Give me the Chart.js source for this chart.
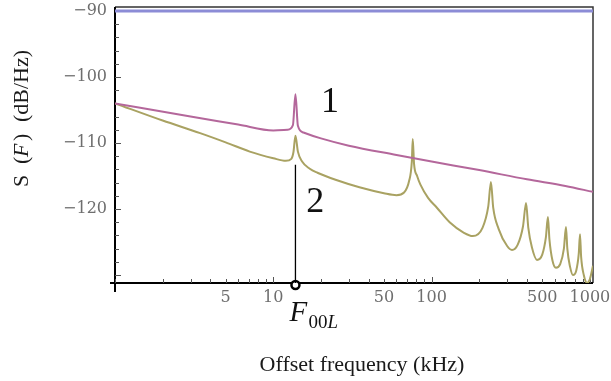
<!DOCTYPE html>
<html>
<head>
<meta charset="utf-8">
<script src="https://cdn.jsdelivr.net/npm/chart.js@4.4.1/dist/chart.umd.min.js"></script>
<style>
  html, body { margin: 0; padding: 0; background: #fff; }
  #wrap { width: 611px; height: 381px; }
</style>
</head>
<body>
<div id="wrap"><canvas id="chart" width="611" height="381"></canvas></div>
<script>
// ---- Data (frequency in kHz, level in dB/Hz) ----

// Curve 1 (magenta)
const curve1Freq  = [1, 3, 6, 10, 12.3, 13.3, 13.8, 14.3, 15.5, 20, 30, 60, 100, 200, 400, 700, 1046];
const curve1Level = [-104.0, -106.0, -107.2, -108.1, -108.0, -107.3, -102.6, -107.4, -108.4, -109.3, -110.4, -111.8, -112.8, -114.1, -115.5, -116.5, -117.4];

// Curve 2 (olive)
const curve2Freq = [
  1, 2, 3.45, 5, 7.1, 10, 12, 13, 13.4, 13.8, 14.3, 15.2, 17, 19, 25, 35, 50, 60,
  67, 72, 75, 76, 77.5, 81, 85, 95, 108, 130, 160, 182, 210, 228, 237, 245, 265, 300, 322,
  350, 378, 395, 408, 430, 463, 500, 527, 543, 555, 580, 610, 650, 685, 706, 720,
  750, 782, 820, 850, 866, 880, 915, 960, 1000, 1046
];
const curve2Level = [
  -104.0, -106.6, -108.5, -109.9, -111.3, -112.3, -112.7, -112.4, -111.4, -108.9, -111.3, -112.8, -113.9, -114.5, -115.6, -116.7, -117.6, -117.9,
  -117.5, -115.8, -112.8, -109.4, -113.2, -115.0, -116.3, -118.3, -119.8, -122.0, -123.6, -124.1, -122.8, -119.6, -115.9, -119.8, -123.0, -125.6, -126.2,
  -125.4, -122.6, -119.1, -122.8, -125.8, -127.7, -126.9, -124.3, -121.2, -124.6, -127.8, -128.9, -128.3, -126.0, -122.7, -126.0,
  -128.8, -130.0, -129.3, -126.8, -123.8, -127.2, -130.0, -131.2, -130.6, -128.6
];

// Reference level line (blue) at -90 dB/Hz
const refFreq  = [1, 1046];
const refLevel = [-90, -90];

// Marker F00L and its vertical guide
const markerFreq = 13.8;
const guideLevel = [-113.3, -131.2];
const markerLevel = -131.5;

// Axes
const xMin = 1, xMax = 1046;
const yMin = -131.2, yMax = -89.4;
const xTickValues = [5, 10, 50, 100, 500, 1000];
const yTickValues = [-120, -110, -100, -90];
const xMinorTicks = [1, 2, 3, 4, 5, 6, 7, 8, 9, 10, 20, 30, 40, 50, 60, 70, 80, 90, 100,
                     200, 300, 400, 500, 600, 700, 800, 900, 1000];
const yMinorTicks = [-130, -128, -126, -124, -122, -120, -118, -116, -114, -112, -110,
                     -108, -106, -104, -102, -100, -98, -96, -94, -92, -90];

const SERIF = '"Liberation Serif", "Times New Roman", serif';

function pts(xs, ys) {
  return xs.map((x, i) => ({ x, y: ys[i] }));
}

// frame + inward ticks, drawn before the curves
const framePlugin = {
  id: 'frame',
  beforeDatasetsDraw(chart) {
    const { ctx, chartArea: a, scales: { x, y } } = chart;
    ctx.save();
    // top/right border
    ctx.strokeStyle = '#333';
    ctx.lineWidth = 1.5;
    ctx.beginPath();
    ctx.moveTo(a.left, a.top);
    ctx.lineTo(a.right, a.top);
    ctx.lineTo(a.right, a.bottom);
    ctx.stroke();
    // axes
    ctx.strokeStyle = '#000';
    ctx.lineWidth = 2;
    ctx.beginPath();
    ctx.moveTo(a.left, a.top);
    ctx.lineTo(a.left, a.bottom + 9);
    ctx.moveTo(a.left - 5, a.bottom);
    ctx.lineTo(a.right, a.bottom);
    ctx.stroke();
    // ticks
    ctx.strokeStyle = '#555';
    ctx.lineWidth = 1;
    ctx.beginPath();
    yMinorTicks.forEach(v => {
      const py = Math.round(y.getPixelForValue(v)) + 0.5;
      const len = v % 10 === 0 ? 6 : 4;
      ctx.moveTo(a.left, py);
      ctx.lineTo(a.left + len, py);
    });
    xMinorTicks.forEach(v => {
      const px = Math.round(x.getPixelForValue(v)) + 0.5;
      const len = (v === 10 || v === 100 || v === 1000) ? 6 : 4;
      ctx.moveTo(px, a.bottom);
      ctx.lineTo(px, a.bottom - len);
    });
    ctx.stroke();
    ctx.restore();
  },
  afterDraw(chart) {
    const { ctx, scales: { x, y } } = chart;
    ctx.save();
    ctx.fillStyle = '#111';
    ctx.textBaseline = 'alphabetic';

    // curve labels
    ctx.font = `36px ${SERIF}`;
    ctx.textAlign = 'center';
    ctx.fillText('1', x.getPixelForValue(22.8), y.getPixelForValue(-105.3));
    ctx.fillText('2', x.getPixelForValue(18.4), y.getPixelForValue(-120.5));

    // F00L label
    const fx = x.getPixelForValue(markerFreq);
    ctx.textAlign = 'left';
    ctx.font = `italic 29px ${SERIF}`;
    ctx.fillText('F', fx - 6, 321);
    ctx.font = `19px ${SERIF}`;
    ctx.fillText('00', fx + 13, 328);
    ctx.font = `italic 19px ${SERIF}`;
    ctx.fillText('L', fx + 32, 328);

    // x title
    ctx.fillStyle = '#1a1a1a';
    ctx.textAlign = 'center';
    ctx.textBaseline = 'middle';
    ctx.font = `22px ${SERIF}`;
    ctx.fillText('Offset frequency (kHz)', 362, 365);

    // y title (rotated, reading upwards)
    ctx.translate(22, 187);
    ctx.rotate(-Math.PI / 2);
    ctx.textAlign = 'left';
    ctx.font = `22px ${SERIF}`;
    ctx.fillText('S', 0, 0);
    ctx.fillText('(', 23, 0);
    ctx.font = `italic 22px ${SERIF}`;
    ctx.fillText('F', 30, 0);
    ctx.font = `22px ${SERIF}`;
    ctx.fillText(')', 46, 0);
    ctx.fillText('(dB/Hz)', 65, 0);
    ctx.restore();
  },
};

new Chart(document.getElementById('chart'), {
  type: 'line',
  data: {
    datasets: [
      {
        label: 'ref',
        data: pts(refFreq, refLevel),
        borderColor: '#8c8cd6',
        borderWidth: 3,
        pointRadius: 0,
      },
      {
        label: '1',
        data: pts(curve1Freq, curve1Level),
        borderColor: '#b4679b',
        borderWidth: 2,
        pointRadius: 0,
        cubicInterpolationMode: 'monotone',
      },
      {
        label: '2',
        data: pts(curve2Freq, curve2Level),
        borderColor: '#a9a262',
        borderWidth: 2,
        pointRadius: 0,
        cubicInterpolationMode: 'monotone',
      },
      {
        label: 'guide',
        data: guideLevel.map(v => ({ x: markerFreq, y: v })),
        borderColor: '#000',
        borderWidth: 1.3,
        pointRadius: 0,
        tension: 0,
      },
      {
        label: 'F00L',
        data: [{ x: markerFreq, y: markerLevel }],
        showLine: false,
        pointRadius: 4,
        pointBackgroundColor: '#fff',
        pointBorderColor: '#000',
        pointBorderWidth: 2.5,
        clip: false,
      },
    ],
  },
  options: {
    responsive: false,
    animation: false,
    devicePixelRatio: 1,
    layout: { padding: { top: 7, right: 18, left: 0, bottom: 0 } },
    plugins: {
      legend: { display: false },
      tooltip: { enabled: false },
    },
    scales: {
      x: {
        type: 'logarithmic',
        min: xMin,
        max: xMax,
        grid: { display: false, drawTicks: false },
        border: { display: false },
        afterBuildTicks: s => { s.ticks = xTickValues.map(v => ({ value: v })); },
        afterFit: s => { s.height = 98; s.paddingLeft = 0; s.paddingRight = 0; },
        ticks: {
          autoSkip: false,
          maxRotation: 0,
          padding: 5,
          color: '#6e6e6e',
          font: { family: 'DejaVu Serif', size: 16 },
          callback: v => String(v),
        },
      },
      y: {
        type: 'linear',
        min: yMin,
        max: yMax,
        grid: { display: false, drawTicks: false },
        border: { display: false },
        afterBuildTicks: s => { s.ticks = yTickValues.map(v => ({ value: v })); },
        afterFit: s => { s.width = 115; s.paddingTop = 0; s.paddingBottom = 0; },
        ticks: {
          padding: 8,
          color: '#6e6e6e',
          font: { family: 'DejaVu Serif', size: 16 },
          callback: v => '\u2212' + Math.abs(v),
        },
      },
    },
  },
  plugins: [framePlugin],
});
</script>
</body>
</html>
